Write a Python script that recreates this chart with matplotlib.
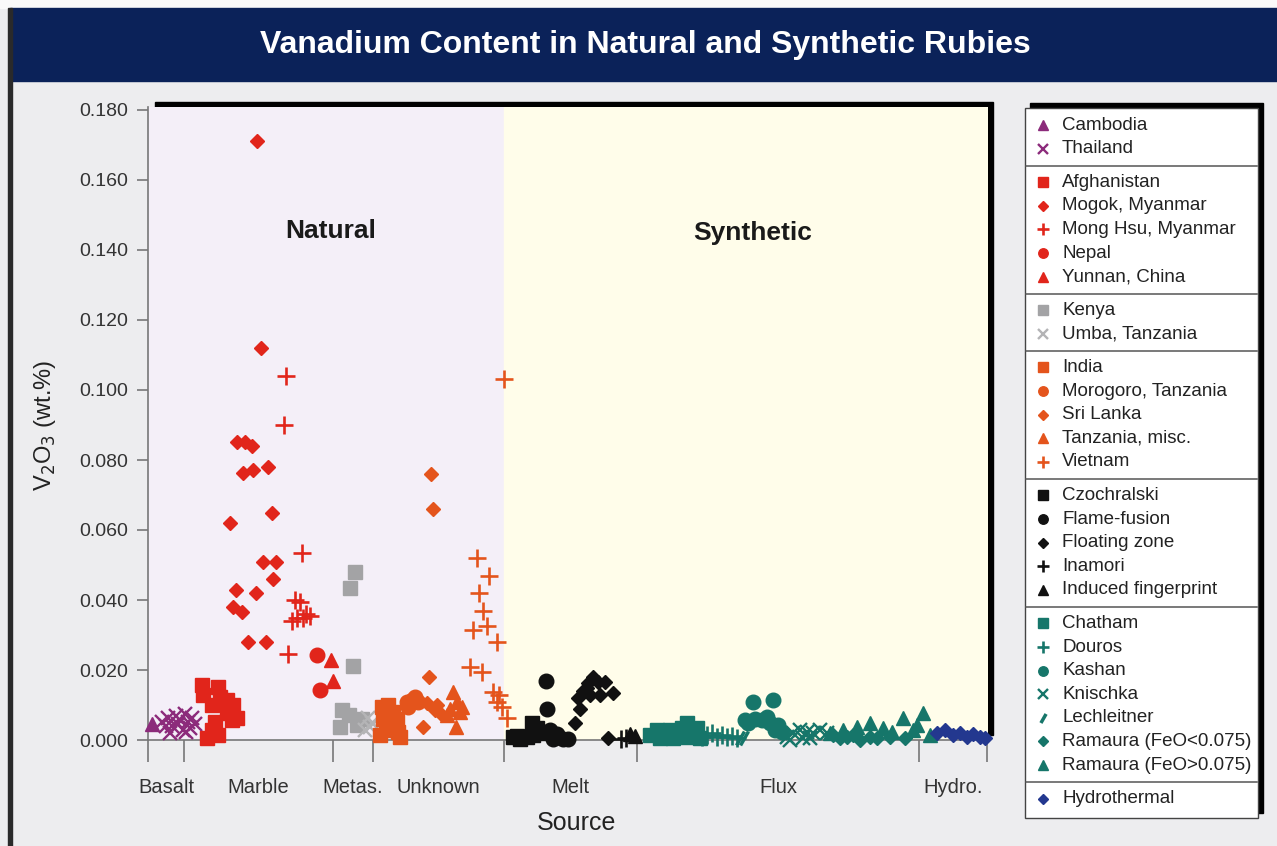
import matplotlib
matplotlib.use('Agg')
import matplotlib.pyplot as plt
import numpy as np
from matplotlib.patches import Rectangle

# x: position along the source axis (arbitrary units), y: V2O3 wt.%
cambodia = [(0.4, 0.0045)]
thailand = [(1.4, 0.0051), (2.0, 0.0063), (2.4, 0.0040), (2.8, 0.0069), (3.2, 0.0057),
            (3.7, 0.0074), (4.0, 0.0051), (4.4, 0.0063), (2.2, 0.0020), (3.5, 0.0029),
            (4.2, 0.0034), (1.8, 0.0040), (3.0, 0.0046), (3.8, 0.0023), (4.7, 0.0045)]
afghanistan = [(5.4, 0.0157), (5.5, 0.0129), (7.0, 0.0151), (7.2, 0.0123), (6.4, 0.0100),
               (7.9, 0.0114), (8.5, 0.0100), (6.7, 0.0051), (8.4, 0.0057), (8.9, 0.0063),
               (6.4, 0.0029), (7.0, 0.0014), (7.9, 0.0077), (5.9, 0.0006)]
mogok = [(10.9, 0.171), (11.3, 0.112), (8.9, 0.085), (9.7, 0.085), (10.4, 0.084),
         (9.5, 0.0764), (10.5, 0.077), (12.0, 0.078), (12.4, 0.065), (8.2, 0.062),
         (11.5, 0.051), (12.8, 0.051), (12.5, 0.046), (8.8, 0.043), (10.8, 0.042),
         (8.5, 0.038), (9.4, 0.0365), (10.0, 0.028), (11.8, 0.028)]
mong_hsu = [(13.8, 0.104), (13.6, 0.090), (15.4, 0.0535), (14.7, 0.040), (15.2, 0.0395),
            (15.8, 0.036), (16.2, 0.0355), (14.4, 0.034), (14.9, 0.035), (15.5, 0.035),
            (14.0, 0.0245)]
nepal = [(16.9, 0.0243), (17.2, 0.0144)]
yunnan = [(18.3, 0.0228), (18.5, 0.0170)]
kenya = [(20.7, 0.048), (20.2, 0.0433), (20.5, 0.0211), (19.4, 0.0086), (20.1, 0.0071),
         (19.2, 0.0038), (20.9, 0.0043), (21.4, 0.0060)]
umba = [(22.0, 0.0062), (22.2, 0.0038), (21.7, 0.0030), (22.4, 0.0050)]
india = [(23.4, 0.0095), (24.0, 0.0100), (24.5, 0.0080), (23.5, 0.0060), (24.9, 0.0060),
         (24.2, 0.0030), (25.0, 0.0024), (25.2, 0.0010), (23.2, 0.0014), (23.8, 0.0045)]
morogoro = [(25.9, 0.0110), (26.4, 0.0114), (26.7, 0.0124), (27.0, 0.0110), (26.0, 0.0095)]
sri_lanka = [(28.3, 0.076), (28.5, 0.066), (28.1, 0.018), (27.9, 0.0105), (28.7, 0.0086),
             (29.2, 0.0076), (27.5, 0.0038), (28.9, 0.0100)]
tanzania = [(30.5, 0.0138), (30.9, 0.0110), (30.2, 0.0090), (31.4, 0.0095), (29.9, 0.0071),
            (30.8, 0.0038), (31.2, 0.0080)]
vietnam = [(35.6, 0.103), (32.9, 0.052), (34.1, 0.047), (33.1, 0.042), (33.5, 0.037),
           (33.9, 0.0325), (32.5, 0.0314), (34.9, 0.028), (32.2, 0.0209), (33.4, 0.0195),
           (34.5, 0.0138), (35.1, 0.0128), (35.4, 0.0095), (35.9, 0.0064), (34.9, 0.0110)]
czochralski = [(36.5, 0.0010), (37.2, 0.0004), (37.9, 0.0010), (38.4, 0.0050), (38.9, 0.0035),
               (39.2, 0.0020), (38.5, 0.0015), (36.9, 0.0012)]
flame_fusion = [(39.8, 0.0169), (39.9, 0.0088), (40.2, 0.0030), (40.9, 0.0016), (41.5, 0.0004),
                (42.0, 0.0002), (40.5, 0.0002), (41.0, 0.0008)]
floating_zone = [(42.7, 0.0050), (43.2, 0.0088), (43.0, 0.0120), (43.5, 0.0140), (44.0, 0.0164),
                 (44.5, 0.0180), (45.0, 0.0167), (45.7, 0.0167), (45.2, 0.0130), (46.5, 0.0135),
                 (43.9, 0.0148), (44.2, 0.0130), (46.0, 0.0007)]
inamori = [(47.3, 0.0002), (47.8, 0.0007)]
induced = [(48.2, 0.0016), (48.7, 0.0011)]
chatham = [(50.2, 0.0014), (50.9, 0.0029), (51.5, 0.0014), (52.2, 0.0029), (52.9, 0.0019),
           (53.4, 0.0033), (53.9, 0.0048), (54.4, 0.0019), (54.9, 0.0033), (51.2, 0.0005),
           (52.5, 0.0005), (54.0, 0.0009), (55.2, 0.0005)]
douros = [(55.4, 0.0010), (55.9, 0.0014), (56.4, 0.0019), (56.9, 0.0010), (57.4, 0.0014),
          (57.9, 0.0010), (58.4, 0.0012), (58.9, 0.0007)]
lechleitner = [(59.2, 0.0007), (59.6, 0.0005)]
kashan = [(60.5, 0.0110), (62.5, 0.0114), (60.0, 0.0048), (60.7, 0.0060), (61.4, 0.0057),
          (62.2, 0.0048), (63.0, 0.0043), (63.4, 0.0024), (59.7, 0.0057), (61.9, 0.0067),
          (62.7, 0.0030)]
knischka = [(63.9, 0.0010), (64.5, 0.0019), (65.2, 0.0029), (65.9, 0.0024), (66.5, 0.0019),
            (67.2, 0.0029), (67.9, 0.0019), (65.5, 0.0005), (66.2, 0.0005), (64.2, 0.0000)]
ramaura_low = [(68.5, 0.0014), (69.2, 0.0005), (69.9, 0.0010), (70.5, 0.0014), (71.2, 0.0000),
               (72.2, 0.0010), (72.9, 0.0005), (74.2, 0.0010), (75.7, 0.0005)]
ramaura_high = [(68.2, 0.0019), (69.5, 0.0029), (70.9, 0.0038), (72.2, 0.0048), (73.5, 0.0033),
                (74.4, 0.0024), (75.5, 0.0062), (76.5, 0.0029), (77.5, 0.0076), (76.9, 0.0043),
                (78.2, 0.0014)]
hydrothermal = [(78.9, 0.0019), (79.7, 0.0029), (80.5, 0.0014), (81.2, 0.0019), (81.9, 0.0010),
                (82.5, 0.0016), (83.2, 0.0010), (83.7, 0.0005)]

source_names = ['Basalt', 'Marble', 'Metas.', 'Unknown', 'Melt', 'Flux', 'Hydro.']
source_bounds = [0, 3.6, 18.5, 22.5, 35.6, 48.9, 77.1, 83.9]
natural_end = 35.6
y_ticks = [0.0, 0.02, 0.04, 0.06, 0.08, 0.10, 0.12, 0.14, 0.16, 0.18]

purple = '#8C2B7B'
red = '#E1251B'
gray = '#A3A3A5'
lgray = '#B4B4B6'
orange = '#E4541C'
black = '#111111'
teal = '#16766A'
navy = '#23388F'

slash = [(-0.4, -0.7), (0.4, 0.7)]
marker_style = {
    's': dict(ms=10),
    'D': dict(ms=7.5),
    'o': dict(ms=10.5),
    '^': dict(ms=10.5),
    '+': dict(ms=12.5, mew=1.9),
    'x': dict(ms=10, mew=1.7),
    'slash': dict(ms=10, mew=2.5),
}

groups = [
    [('Cambodia', '^', purple, cambodia), ('Thailand', 'x', purple, thailand)],
    [('Afghanistan', 's', red, afghanistan), ('Mogok, Myanmar', 'D', red, mogok),
     ('Mong Hsu, Myanmar', '+', red, mong_hsu), ('Nepal', 'o', red, nepal),
     ('Yunnan, China', '^', red, yunnan)],
    [('Kenya', 's', gray, kenya), ('Umba, Tanzania', 'x', lgray, umba)],
    [('India', 's', orange, india), ('Morogoro, Tanzania', 'o', orange, morogoro),
     ('Sri Lanka', 'D', orange, sri_lanka), ('Tanzania, misc.', '^', orange, tanzania),
     ('Vietnam', '+', orange, vietnam)],
    [('Czochralski', 's', black, czochralski), ('Flame-fusion', 'o', black, flame_fusion),
     ('Floating zone', 'D', black, floating_zone), ('Inamori', '+', black, inamori),
     ('Induced fingerprint', '^', black, induced)],
    [('Chatham', 's', teal, chatham), ('Douros', '+', teal, douros),
     ('Kashan', 'o', teal, kashan), ('Knischka', 'x', teal, knischka),
     ('Lechleitner', 'slash', teal, lechleitner),
     ('Ramaura (FeO<0.075)', 'D', teal, ramaura_low),
     ('Ramaura (FeO>0.075)', '^', teal, ramaura_high)],
    [('Hydrothermal', 'D', navy, hydrothermal)],
]

plt.rcParams['font.family'] = ['Liberation Sans', 'DejaVu Sans']

W, H = 1277, 846
fig = plt.figure(figsize=(W / 100, H / 100), dpi=100)
fig.patch.set_facecolor('#EDEDEF')

# pixel overlay for frame decorations
ov = fig.add_axes([0, 0, 1, 1], zorder=0)
ov.set_xlim(0, W)
ov.set_ylim(H, 0)
ov.axis('off')
ov.add_patch(Rectangle((0, 0), W, 8, color='#FAFAFA'))
ov.add_patch(Rectangle((10, 8), W - 10, 73, color='#0B2259'))
ov.add_patch(Rectangle((8, 8), 4, H - 8, color='#2A2A2A'))
# plot shadow
ov.add_patch(Rectangle((155, 102), 838, 633, color='black'))
# legend box with shadow
ov.add_patch(Rectangle((1030, 103), 233, 710, color='black'))
ov.add_patch(Rectangle((1025, 108), 233, 710, facecolor='white', edgecolor='#444444', lw=1))

fig.text(645 / W, 1 - 45 / H, 'Vanadium Content in Natural and Synthetic Rubies',
         color='white', fontsize=23, fontweight='bold', ha='center', va='center')

ax = fig.add_axes([148 / W, 1 - 740 / H, 840 / W, 633 / H], zorder=1)
ax.set_facecolor('none')
ax.set_xlim(0, 84.0)
ax.set_ylim(0, 633 / 3500)
ax.axvspan(0, natural_end, color='#F4EFF8', zorder=0)
ax.axvspan(natural_end, 84.0, color='#FFFDEA', zorder=0)

for group in groups:
    for label, m, c, pts in group:
        pts = np.array(pts)
        st = marker_style[m]
        mk = slash if m == 'slash' else m
        ax.plot(pts[:, 0], pts[:, 1], linestyle='none', marker=mk, color=c,
                mec=c, clip_on=False, zorder=3, **st)

ax.text(18.3, 0.1454, 'Natural', fontsize=19, fontweight='bold', color='#1A1A1A',
        ha='center', va='center')
ax.text(60.5, 0.1449, 'Synthetic', fontsize=19, fontweight='bold', color='#1A1A1A',
        ha='center', va='center')

for s in ['top', 'right']:
    ax.spines[s].set_visible(False)
for s in ['left', 'bottom']:
    ax.spines[s].set_color('#777777')
    ax.spines[s].set_linewidth(1.2)

ax.set_yticks(y_ticks)
ax.set_yticklabels(['%.3f' % v for v in y_ticks], fontsize=14, color='#333333')
ax.tick_params(axis='y', length=8, width=1.2, color='#777777', pad=6)

centers = [(a + b) / 2 for a, b in zip(source_bounds[:-1], source_bounds[1:])]
ax.set_xticks(source_bounds)
ax.set_xticklabels([])
ax.tick_params(axis='x', which='major', length=16, width=1.2, color='#777777')
ax.set_xticks(centers, minor=True)
ax.set_xticklabels(source_names, minor=True, fontsize=14.5, color='#333333',
                   family=['Liberation Sans Narrow', 'Liberation Sans'])
ax.tick_params(axis='x', which='minor', length=0, pad=27)

fig.text(577 / W, 1 - 823 / H, 'Source', fontsize=18, color='#222222',
         ha='center', va='center')
fig.text(45 / W, 1 - 425 / H, r'V$_2$O$_3$ (wt.%)', fontsize=17, color='#222222',
         ha='center', va='center', rotation=90)

# legend
row = 23.6
y = 125.0
for gi, group in enumerate(groups):
    if gi > 0:
        sep = y - row + 17
        ov.plot([1026, 1257], [sep, sep], color='#555555', lw=1.1)
        y += 10
    for label, m, c, pts in group:
        st = dict(marker_style[m])
        st['ms'] = st['ms'] * 0.65
        mk = slash if m == 'slash' else m
        ov.plot([1043], [y], linestyle='none', marker=mk, color=c, mec=c, **st)
        ov.text(1062, y, label, fontsize=13.5, color='#222222', va='center', ha='left')
        y += row

fig.savefig('out.png', dpi=100, facecolor=fig.get_facecolor())
